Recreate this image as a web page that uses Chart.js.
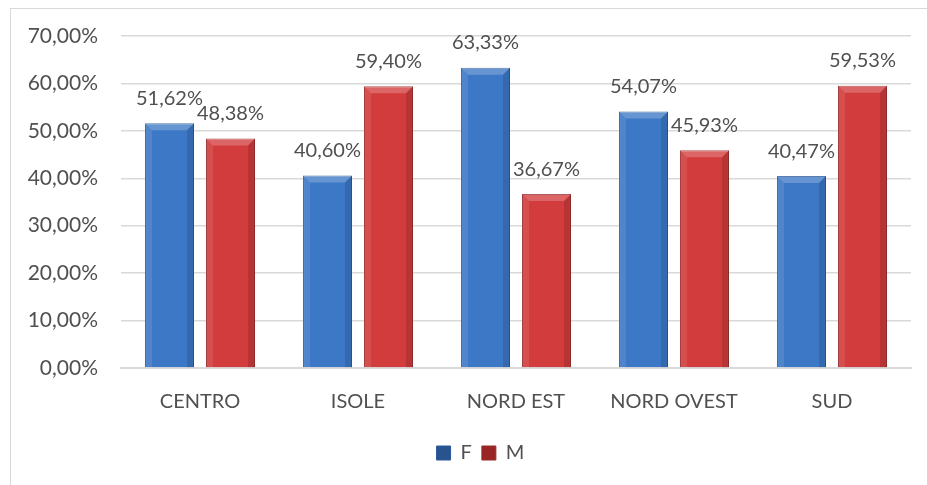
<!DOCTYPE html>
<html>
<head>
<meta charset="utf-8">
<script src="https://cdn.jsdelivr.net/npm/chart.js@4/dist/chart.umd.min.js"></script>
<style>
  html, body { margin: 0; padding: 0; background: #fff; overflow: hidden; }
  #frame { position: absolute; left: 10px; top: 8px; width: 930px; height: 500px; border: 1px solid #d9d9d9; box-sizing: border-box; }
  #wrap { position: absolute; left: 0; top: 0; width: 927px; height: 485px; }
</style>
</head>
<body>
<div id="frame"></div>
<div id="wrap"><canvas id="c" width="927" height="485"></canvas></div>
<script>
const categories = ["CENTRO", "ISOLE", "NORD EST", "NORD OVEST", "SUD"];
const seriesF = [51.62, 40.60, 63.33, 54.07, 40.47];
const seriesM = [48.38, 59.40, 36.67, 45.93, 59.53];
const seriesNames = ["F", "M"];
const yTicks = [0, 10, 20, 30, 40, 50, 60, 70];

const FONT = "Lato, 'Liberation Sans', sans-serif";
const TXT = "#505050";

function fmt(v) { return v.toFixed(2).replace(".", ",") + "%"; }

function grad(stops) {
  return function(ctx) {
    const el = ctx.element;
    const chart = ctx.chart;
    if (!el || el.width === undefined || !chart.chartArea) return stops[2];
    const w = el.width;
    const x0 = el.x - w / 2;
    const g = chart.ctx.createLinearGradient(x0, 0, x0 + w, 0);
    g.addColorStop(0, stops[0]);
    g.addColorStop(0.12, stops[1]);
    g.addColorStop(0.5, stops[2]);
    g.addColorStop(0.88, stops[3]);
    g.addColorStop(1, stops[4]);
    return g;
  };
}
const blueStops = ["#2f62a8", "#4784d2", "#3d78c6", "#3871bc", "#28538f"];
const redStops  = ["#a82c2c", "#dc4949", "#d23c3c", "#c83535", "#982424"];

const valueLabels = {
  id: "valueLabels",
  afterDatasetsDraw(chart) {
    const ctx = chart.ctx;
    ctx.save();
    ctx.font = "20px " + FONT;
    ctx.fillStyle = TXT;
    ctx.textAlign = "center";
    ctx.textBaseline = "middle";
    chart.data.datasets.forEach((ds, i) => {
      const meta = chart.getDatasetMeta(i);
      meta.data.forEach((bar, j) => {
        ctx.fillText(fmt(ds.data[j]), bar.x, bar.y - 25);
      });
    });
    ctx.restore();
  }
};

const bevel = {
  id: "bevel",
  afterDatasetsDraw(chart) {
    const ctx = chart.ctx;
    ctx.save();
    chart.data.datasets.forEach((ds, i) => {
      const meta = chart.getDatasetMeta(i);
      meta.data.forEach((bar) => {
        const w = bar.width, x0 = bar.x - w / 2, x1 = bar.x + w / 2, y = bar.y;
        const d = 7;
        ctx.fillStyle = "rgba(255,255,255,0.22)";
        ctx.beginPath();
        ctx.moveTo(x0, y); ctx.lineTo(x1, y); ctx.lineTo(x1 - d, y + d); ctx.lineTo(x0 + d, y + d);
        ctx.closePath(); ctx.fill();
        ctx.fillStyle = "rgba(255,255,255,0.10)";
        ctx.beginPath();
        ctx.moveTo(x0, y); ctx.lineTo(x0 + d, y + d); ctx.lineTo(x0 + d, bar.base); ctx.lineTo(x0, bar.base);
        ctx.closePath(); ctx.fill();
        ctx.fillStyle = "rgba(0,0,0,0.12)";
        ctx.beginPath();
        ctx.moveTo(x1, y); ctx.lineTo(x1 - d, y + d); ctx.lineTo(x1 - d, bar.base); ctx.lineTo(x1, bar.base);
        ctx.closePath(); ctx.fill();
      });
    });
    ctx.restore();
  }
};

const legendShift = {
  id: "legendShift",
  afterLayout(chart) {
    if (chart.legend) { chart.legend.left += 25; chart.legend.right += 25; }
  }
};

new Chart(document.getElementById("c"), {
  type: "bar",
  data: {
    labels: categories,
    datasets: [
      { label: seriesNames[0], data: seriesF, backgroundColor: grad(blueStops), borderColor: "#2a5a9a", borderWidth: 1, borderSkipped: "bottom" },
      { label: seriesNames[1], data: seriesM, backgroundColor: grad(redStops), borderColor: "#9c2a2a", borderWidth: 1, borderSkipped: "bottom" }
    ]
  },
  options: {
    responsive: false,
    animation: false,
    devicePixelRatio: 1,
    layout: { padding: { left: 0, right: 16, top: 36, bottom: 12 } },
    datasets: { bar: { categoryPercentage: 0.772, barPercentage: 0.803 } },
    scales: {
      x: {
        grid: { display: false, drawTicks: false },
        border: { color: "#d9d9d9", width: 2 },
        ticks: { color: TXT, font: { size: 20, family: FONT }, padding: 22, maxRotation: 0 },
        afterFit(s) { s.height = 65; }
      },
      y: {
        min: 0, max: 70,
        afterBuildTicks(s) { s.ticks = yTicks.map(v => ({ value: v })); },
        grid: { color: "#d9d9d9", lineWidth: 1.5, drawTicks: false },
        border: { display: false },
        ticks: { color: TXT, font: { size: 21, family: FONT }, padding: 23, callback: v => fmt(v) },
        afterFit(s) { s.width = 121; }
      }
    },
    plugins: {
      legend: {
        position: "bottom",
        labels: { color: TXT, font: { size: 20, family: FONT }, boxWidth: 14, boxHeight: 14, padding: 10 }
      },
      tooltip: { enabled: false }
    }
  },
  plugins: [bevel, valueLabels, legendShift]
});
</script>
</body>
</html>
